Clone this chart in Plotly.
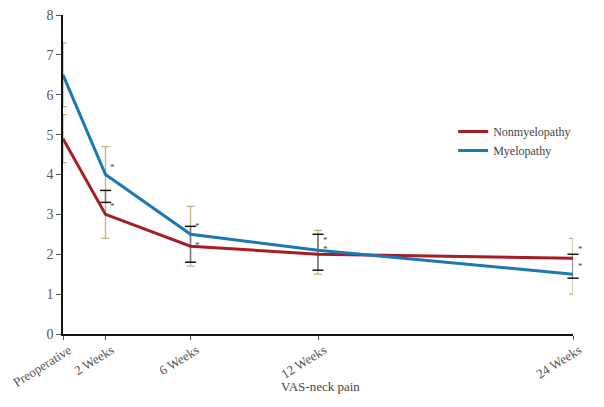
import numpy as np
import plotly.graph_objects as go

# time points (weeks after surgery) and their labels
weeks = [0, 2, 6, 12, 24]
week_labels = ["Preoperative", "2 Weeks", "6 Weeks", "12 Weeks", "24 Weeks"]

# VAS-neck pain, mean and SD
nonmyelo_mean = [4.9, 3.0, 2.2, 2.0, 1.9]
nonmyelo_sd = [0.6, 0.6, 0.5, 0.5, 0.5]
myelo_mean = [6.5, 4.0, 2.5, 2.1, 1.5]
myelo_sd = [0.8, 0.7, 0.7, 0.5, 0.5]

# significance marks at the follow-up points (heights)
star_weeks = [2, 6, 12, 24]
myelo_star_y = [4.25, 2.75, 2.41, 1.75]
nonmyelo_star_y = [3.25, 2.27, 2.19, 2.17]

RED = "#a51d26"
BLUE = "#1b78b3"
TAN = "#c2b184"
SERIF = "Liberation Serif"

fig = go.Figure()

# error bars of each group (tan)
for mean, sd in [(myelo_mean, myelo_sd), (nonmyelo_mean, nonmyelo_sd)]:
    fig.add_trace(go.Scatter(
        x=weeks, y=mean, mode="markers",
        marker=dict(size=1, color="rgba(0,0,0,0)"),
        error_y=dict(type="data", array=sd, color=TAN, thickness=1.3, width=4),
        showlegend=False, hoverinfo="skip", cliponaxis=False,
    ))

# where the two bars overlap the original draws them darker
lo = np.maximum(np.array(myelo_mean) - myelo_sd, np.array(nonmyelo_mean) - nonmyelo_sd)
hi = np.minimum(np.array(myelo_mean) + myelo_sd, np.array(nonmyelo_mean) + nonmyelo_sd)
ov = hi > lo
ov_x = np.array(weeks)[ov]
fig.add_trace(go.Scatter(
    x=ov_x, y=(lo[ov] + hi[ov]) / 2, mode="markers",
    marker=dict(size=1, color="rgba(0,0,0,0)"),
    error_y=dict(type="data", array=(hi[ov] - lo[ov]) / 2, color="#7d7480", thickness=1.4, width=0),
    showlegend=False, hoverinfo="skip", cliponaxis=False,
))
fig.add_trace(go.Scatter(
    x=np.concatenate([ov_x, ov_x]), y=np.concatenate([lo[ov], hi[ov]]), mode="markers",
    marker=dict(symbol="line-ew", size=8, line=dict(color="#111111", width=1.4)),
    showlegend=False, hoverinfo="skip", cliponaxis=False,
))

fig.add_trace(go.Scatter(
    x=weeks, y=nonmyelo_mean, mode="lines", name="Nonmyelopathy",
    line=dict(color=RED, width=3), cliponaxis=False,
))
fig.add_trace(go.Scatter(
    x=weeks, y=myelo_mean, mode="lines", name="Myelopathy",
    line=dict(color=BLUE, width=3), cliponaxis=False,
))

# asterisks next to each pair of bars
for w, ya, yb in zip(star_weeks, myelo_star_y, nonmyelo_star_y):
    for ys in (ya, yb):
        fig.add_annotation(x=w, y=ys, text="*", showarrow=False,
                           xshift=7, yshift=-2, font=dict(family=SERIF, size=9, color="#444"))

fig.add_annotation(x=0.504, y=-0.166, xref="paper", yref="paper", yanchor="middle",
                   text="VAS-neck pain", showarrow=False,
                   font=dict(family=SERIF, size=13, color="#444"))

# page body has an 8px margin, so the figure is a bit smaller than the window
fig.update_layout(
    width=596, height=399,
    margin=dict(l=55, r=31, t=7, b=73),
    paper_bgcolor="white", plot_bgcolor="white",
    font=dict(family=SERIF, size=13, color="#555"),
    legend=dict(x=0.765, y=0.68, xanchor="left", yanchor="top",
                font=dict(family=SERIF, size=12, color="#444"),
                bgcolor="rgba(0,0,0,0)", tracegroupgap=0),
)
fig.update_xaxes(
    range=[0, 24], tickvals=weeks, ticktext=week_labels, tickangle=-32,
    showgrid=False, zeroline=False, showline=True, linecolor="#111", linewidth=1.5,
    ticks="outside", ticklen=4, tickcolor="#555", automargin=False,
    ticklabeloverflow="allow", ticklabelstandoff=-2, ticklabelshift=6,
)
fig.update_yaxes(
    range=[0, 8], dtick=1, showgrid=False, zeroline=False,
    showline=True, linecolor="#111", linewidth=1.5,
    ticks="outside", ticklen=5, tickcolor="#555", automargin=False,
    tickfont=dict(size=14), ticklabeloverflow="allow",
)

fig.write_html("out.html")
